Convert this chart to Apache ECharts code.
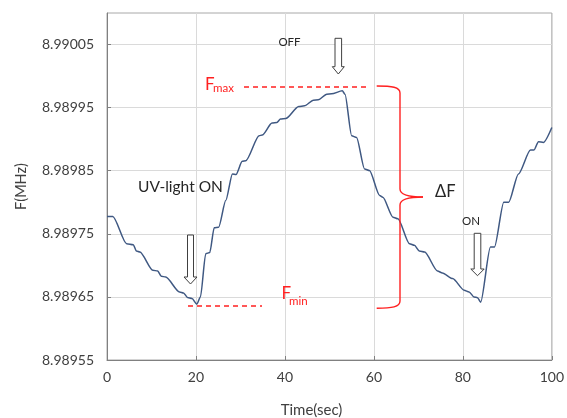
<!DOCTYPE html>
<html>
<head>
<meta charset="utf-8">
<script src="https://cdn.jsdelivr.net/npm/echarts@6/dist/echarts.min.js"></script>
<style>
  html, body { margin: 0; padding: 0; background: #fff; }
  #chart { width: 567px; height: 418px; }
</style>
</head>
<body>
<div id="chart"></div>
<script>
// Resonance frequency of the sensor vs. time during UV on/off cycles
const timeSec = [0, 1.3, 4.4, 5.9, 6.6, 7.4, 10.3, 11.4, 12.2, 13.2, 16.3, 17.2, 18.1, 19.1, 20.2, 21, 22.2, 23.1, 24.1, 25.1, 26.7, 28.2, 29, 30.4, 31.2, 34.2, 34.9, 37.1, 38.2, 39, 40.2, 43.1, 44.4, 46.4, 47.5, 49.4, 50.5, 52.9, 53.5, 55, 56.1, 57.9, 59, 61.3, 62, 64.3, 65.4, 68, 69.1, 70.2, 71.4, 74.3, 75.4, 77.7, 80.3, 81.4, 82.5, 83.3, 84, 86.2, 87.1, 89.2, 90.3, 92.5, 95.2, 96, 97, 98.1, 100];
const freqMHz = [
  8.9897775, 8.9897775, 8.9897344, 8.9897328, 8.9897227, 8.9897211, 8.9896922, 8.9896911, 8.9896827, 8.9896816,
  8.9896579, 8.9896563, 8.9896491, 8.9896475, 8.9896385, 8.9896500, 8.9897186, 8.9897202, 8.9897597, 8.9897606,
  8.9898028, 8.9898450, 8.9898439, 8.9898649, 8.9898660, 8.9899055, 8.9899066, 8.9899256, 8.9899265, 8.9899319,
  8.9899328, 8.9899518, 8.9899529, 8.9899619, 8.9899624, 8.9899714, 8.9899719, 8.9899766, 8.9899714, 8.9899055,
  8.9899028, 8.9898529, 8.9898502, 8.9898107, 8.9898080, 8.9897764, 8.9897739, 8.9897344, 8.9897317, 8.9897227,
  8.9897211, 8.9896911, 8.9896879, 8.9896791, 8.9896606, 8.9896579, 8.9896500, 8.9896488, 8.9896416, 8.9897290,
  8.9897290, 8.9898001, 8.9898001, 8.9898450, 8.9898829, 8.9898829, 8.9898960, 8.9898949, 8.9899186
];
const yTicks = [8.98955, 8.98965, 8.98975, 8.98985, 8.98995, 8.99005];

const FONT = 'Lato, "Open Sans", sans-serif';
const TEXT = '#404040';
const RED = '#ff2020';

function downArrow(cx, top, headStart, tip, sh, hh) {
  return {
    type: 'polygon',
    shape: { points: [[cx - sh, top], [cx + sh, top], [cx + sh, headStart], [cx + hh, headStart], [cx, tip], [cx - hh, headStart], [cx - sh, headStart]] },
    style: { fill: '#fff', stroke: '#404040', lineWidth: 1 },
    z: 10
  };
}
function label(x, y, text, size, color, align) {
  return {
    type: 'text', x: x, y: y, z: 10,
    style: { text: text, font: size + 'px ' + FONT, fill: color, textAlign: align || 'left', textVerticalAlign: 'middle' }
  };
}
const braceStyle = { fill: null, stroke: RED, lineWidth: 1.4 };
function curve(x1, y1, cpx1, cpy1, cpx2, cpy2, x2, y2) {
  return { type: 'bezierCurve', z: 10, shape: { x1, y1, cpx1, cpy1, cpx2, cpy2, x2, y2 }, style: braceStyle };
}
function seg(x1, y1, x2, y2) {
  return { type: 'line', z: 10, shape: { x1, y1, x2, y2 }, style: braceStyle };
}

const chart = echarts.init(document.getElementById('chart'));
chart.setOption({
  animation: false,
  backgroundColor: '#fff',
  grid: { left: 107, top: 13, right: 11, bottom: 58, show: true, borderColor: '#a8a8a8', borderWidth: 1 },
  xAxis: {
    type: 'value', min: 0, max: 100, interval: 20,
    axisLine: { show: true, lineStyle: { color: '#808080', width: 1 } },
    axisTick: { show: true, inside: true, length: 4, lineStyle: { color: '#808080' } },
    axisLabel: { color: TEXT, fontSize: 14, fontFamily: FONT, margin: 10,
      formatter: v => String(Math.round(v)) },
    splitLine: { show: true, lineStyle: { color: '#dadada', width: 1 } }
  },
  yAxis: {
    type: 'value', min: 8.98955, max: 8.9901,
    name: 'F(MHz)', nameLocation: 'middle', nameGap: 78,
    nameTextStyle: { color: TEXT, fontSize: 14.5, fontFamily: FONT },
    axisLine: { show: true, lineStyle: { color: '#808080', width: 1 } },
    axisTick: { show: true, inside: true, length: 4, customValues: yTicks, lineStyle: { color: '#808080' } },
    axisLabel: { color: TEXT, fontSize: 14, fontFamily: FONT, margin: 13,
      customValues: yTicks, formatter: v => v.toFixed(5) },
    splitLine: { show: true, lineStyle: { color: '#dadada', width: 1 } }
  },
  series: [{
    type: 'line',
    data: timeSec.map((t, i) => [t, freqMHz[i]]),
    showSymbol: false,
    smooth: 0.25,
    smoothMonotone: 'x',
    lineStyle: { color: '#3f5882', width: 1.5 },
    z: 5
  }],
  graphic: [
    // axis title
    label(311.5, 410, 'Time(sec)', 15, TEXT, 'center'),
    // UV switching marks
    label(138, 187, 'UV-light ON', 15.5, '#262626'),
    downArrow(190.5, 235, 277, 284, 3, 6.5),
    label(289.5, 42, 'OFF', 11.5, '#262626', 'center'),
    downArrow(338.3, 38.3, 66.7, 74, 3.3, 6),
    label(471, 221, 'ON', 11.5, '#262626', 'center'),
    downArrow(477.5, 233.3, 269, 275.7, 3.3, 6.7),
    // Fmax / Fmin reference levels
    label(205, 85, 'F', 17, RED),
    label(213, 88.5, 'max', 11.5, RED),
    { type: 'line', z: 10, shape: { x1: 244, y1: 87, x2: 368, y2: 87 },
      style: { stroke: RED, lineWidth: 1.3, lineDash: [5, 4] } },
    label(281.5, 294, 'F', 17, RED),
    label(289, 301.5, 'min', 11.5, RED),
    { type: 'line', z: 10, shape: { x1: 188, y1: 306, x2: 262, y2: 306 },
      style: { stroke: RED, lineWidth: 1.3, lineDash: [5, 4] } },
    // brace spanning ΔF
    curve(376.7, 86, 392, 86, 400, 87, 400, 93),
    seg(400, 93, 400, 189),
    curve(400, 189, 400, 195, 410, 197, 423, 197),
    curve(423, 197, 410, 197, 400, 199, 400, 205),
    seg(400, 205, 400, 301),
    curve(400, 301, 400, 307, 392, 308.3, 376.7, 308.3),
    label(435, 192, 'ΔF', 16.5, '#262626')
  ]
});
</script>
</body>
</html>
